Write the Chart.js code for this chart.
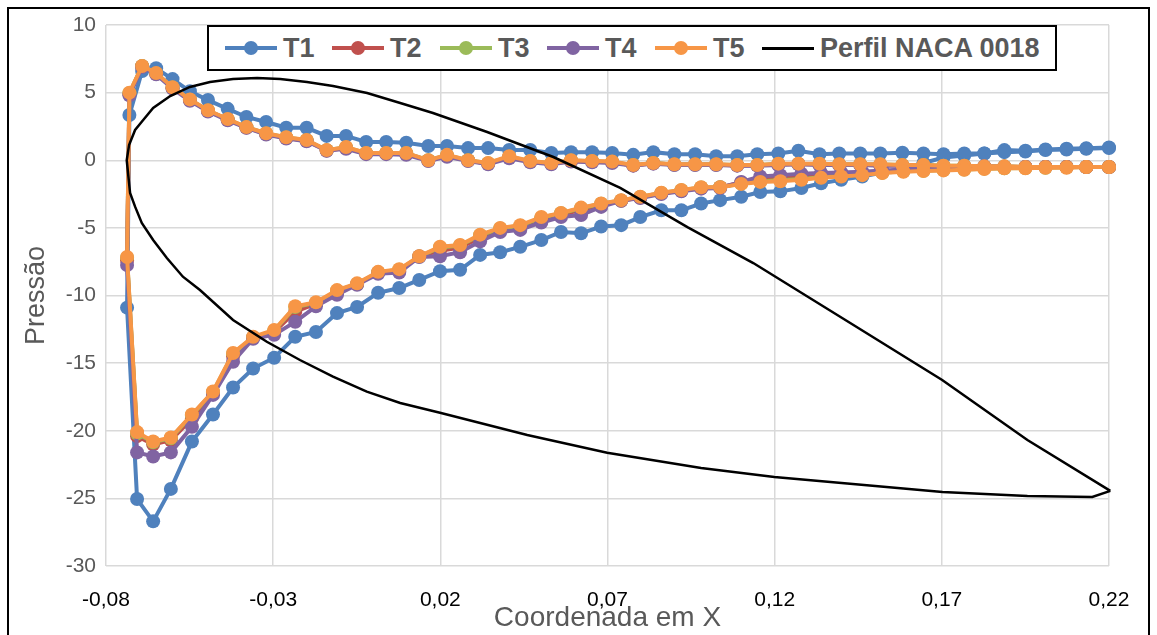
<!DOCTYPE html>
<html><head><meta charset="utf-8">
<script src="https://cdn.jsdelivr.net/npm/chart.js@4.4.1/dist/chart.umd.min.js"></script>
<style>
html,body{margin:0;padding:0;background:#fff;width:1157px;height:635px;overflow:hidden;}
#wrap{position:relative;width:1157px;height:635px;}
#c{position:absolute;left:0;top:0;}
#frame{position:absolute;left:7px;top:7px;width:1139px;height:700px;border:2px solid #000;pointer-events:none;}
#legend{position:absolute;left:207px;top:25px;width:846px;height:42px;border:2px solid #000;background:#fff;}
.item{position:absolute;top:0;height:42px;display:flex;align-items:center;}
.sw{position:relative;width:52px;height:4px;}
.sw i{position:absolute;left:50%;top:50%;width:14px;height:14px;margin:-7px 0 0 -7px;border-radius:50%;}
.lb{margin-left:6px;font:bold 27px 'Liberation Sans',Arial,sans-serif;color:#595959;white-space:nowrap;}
</style></head>
<body>
<div id="wrap">
<canvas id="c" width="1157" height="635"></canvas>
<div id="frame"></div>
<div id="legend"></div>
</div>
<script>
// ---- data ----
const xTicks = [-0.08, -0.03, 0.02, 0.07, 0.12, 0.17, 0.22];
const yTicks = [-30, -25, -20, -15, -10, -5, 0, 5, 10];
const seriesNames = ['T1', 'T2', 'T3', 'T4', 'T5', 'Perfil NACA 0018'];

const xUpper = [-0.0730,-0.0692,-0.0650,-0.0601,-0.0549,-0.0495,-0.0436,-0.0380,-0.0321,-0.0261,
  -0.0200,-0.0140,-0.0082,-0.0022,0.0038,0.0098,0.0164,0.0220,0.0283,0.0343,
  0.0406,0.0469,0.0532,0.0591,0.0654,0.0714,0.0777,0.0837,0.0900,0.0962,
  0.1025,0.1088,0.1148,0.1211,0.1271,0.1334,0.1393,0.1456,0.1516,0.1582,
  0.1645,0.1705,0.1767,0.1827,0.1887,0.1950,0.2010,0.2073,0.2132,0.2200];
const xLower = [-0.0737,-0.0707,-0.0659,-0.0606,-0.0543,-0.0480,-0.0420,-0.0360,-0.0297,-0.0234,
  -0.0172,-0.0109,-0.0049,0.0014,0.0077,0.0137,0.0199,0.0259,0.0319,0.0379,
  0.0439,0.0502,0.0561,0.0621,0.0681,0.0741,0.0798,0.0861,0.0921,0.0980,
  0.1037,0.1100,0.1157,0.1217,0.1280,0.1339,0.1399,0.1462,0.1522,0.1585,
  0.1645,0.1705,0.1767,0.1827,0.1887,0.1950,0.2010,0.2073,0.2132,0.2200];

const t1Upper = [3.35,6.6,6.8,6.0,5.1,4.45,3.8,3.2,2.83,2.4,
  2.4,1.8,1.8,1.35,1.35,1.3,1.05,1.05,0.9,0.9,
  0.76,0.76,0.54,0.6,0.6,0.54,0.4,0.6,0.45,0.45,
  0.3,0.3,0.45,0.5,0.7,0.45,0.5,0.5,0.5,0.55,
  0.5,0.45,0.5,0.5,0.75,0.7,0.8,0.85,0.88,0.95];
const t1Lower = [-10.9,-25.05,-26.7,-24.3,-20.8,-18.8,-16.8,-15.4,-14.6,-13.05,
  -12.7,-11.3,-10.85,-9.8,-9.45,-8.85,-8.2,-8.1,-7.0,-6.8,
  -6.4,-5.9,-5.3,-5.4,-4.9,-4.8,-4.2,-3.7,-3.7,-3.2,
  -2.95,-2.7,-2.35,-2.3,-2.05,-1.7,-1.45,-1.2,-0.9,-0.6,
  -0.2,0.2,0.35,0.5,0.6,0.65,0.75,0.8,0.85,0.9];

const t2Upper = [4.9,6.95,6.4,5.35,4.45,3.65,3.0,2.42,1.95,1.65,
  1.45,0.72,0.9,0.5,0.5,0.48,-0.02,0.32,-0.02,-0.25,
  0.22,-0.1,-0.25,-0.05,-0.1,-0.15,-0.38,-0.22,-0.32,-0.32,
  -0.32,-0.38,-0.38,-0.3,-0.28,-0.3,-0.32,-0.32,-0.35,-0.38,
  -0.38,-0.42,-0.42,-0.47,-0.47,-0.5,-0.5,-0.5,-0.5,-0.5];
const t2Lower = [-7.4,-20.4,-21.0,-20.7,-19.1,-17.2,-14.5,-13.1,-12.7,-11.2,
  -10.6,-9.8,-9.15,-8.3,-8.2,-7.1,-6.7,-6.45,-5.7,-5.15,
  -4.95,-4.35,-4.0,-3.7,-3.3,-3.0,-2.75,-2.45,-2.25,-2.05,
  -2.0,-1.65,-1.35,-1.25,-1.15,-1.05,-1.0,-0.95,-0.85,-0.75,
  -0.7,-0.65,-0.6,-0.55,-0.55,-0.55,-0.5,-0.5,-0.5,-0.5];

const t3Upper = [4.95,6.96,6.42,5.38,4.48,3.68,3.02,2.44,1.98,1.68,
  1.48,0.74,0.95,0.52,0.52,0.52,0.0,0.36,0.0,-0.22,
  0.26,-0.07,-0.22,-0.02,-0.07,-0.12,-0.36,-0.21,-0.31,-0.31,
  -0.31,-0.36,-0.36,-0.27,-0.27,-0.27,-0.31,-0.31,-0.32,-0.36,
  -0.36,-0.41,-0.41,-0.46,-0.46,-0.5,-0.5,-0.5,-0.5,-0.5];
const t3Lower = [-7.2,-20.2,-20.85,-20.55,-18.85,-17.15,-14.3,-13.1,-12.6,-10.85,
  -10.55,-9.65,-9.15,-8.3,-8.1,-7.12,-6.45,-6.3,-5.55,-5.05,
  -4.85,-4.25,-3.92,-3.55,-3.22,-2.97,-2.72,-2.42,-2.22,-2.02,
  -2.0,-1.72,-1.55,-1.48,-1.38,-1.25,-1.15,-1.05,-0.92,-0.82,
  -0.78,-0.72,-0.68,-0.62,-0.6,-0.57,-0.55,-0.52,-0.5,-0.5];

const t4Upper = [4.8,6.9,6.35,5.3,4.4,3.6,2.95,2.4,1.9,1.6,
  1.4,0.7,0.85,0.45,0.45,0.4,-0.05,0.25,-0.05,-0.3,
  0.15,-0.15,-0.3,-0.1,-0.15,-0.2,-0.4,-0.25,-0.35,-0.35,
  -0.35,-0.4,-0.4,-0.35,-0.3,-0.35,-0.35,-0.35,-0.4,-0.4,
  -0.4,-0.45,-0.45,-0.45,-0.5,-0.5,-0.5,-0.5,-0.5,-0.5];
const t4Lower = [-7.75,-21.6,-21.9,-21.6,-19.7,-17.35,-14.9,-13.2,-12.9,-11.95,
  -10.8,-9.95,-9.2,-8.4,-8.3,-7.15,-7.1,-6.8,-6.0,-5.3,
  -5.15,-4.6,-4.2,-4.05,-3.45,-3.0,-2.8,-2.5,-2.3,-2.1,
  -2.05,-1.6,-1.2,-1.1,-1.0,-0.95,-0.9,-0.85,-0.75,-0.7,
  -0.6,-0.55,-0.5,-0.5,-0.5,-0.5,-0.5,-0.5,-0.5,-0.5];

const t5Upper = [5.0,6.97,6.45,5.4,4.5,3.7,3.05,2.45,2.0,1.7,
  1.5,0.75,0.98,0.54,0.54,0.54,0.0,0.4,0.0,-0.2,
  0.3,-0.05,-0.2,0.0,-0.05,-0.1,-0.35,-0.2,-0.3,-0.3,
  -0.3,-0.35,-0.35,-0.25,-0.25,-0.25,-0.3,-0.3,-0.3,-0.35,
  -0.35,-0.4,-0.4,-0.45,-0.45,-0.5,-0.5,-0.5,-0.5,-0.5];
const t5Lower = [-7.15,-20.1,-20.8,-20.5,-18.8,-17.1,-14.25,-13.05,-12.55,-10.8,
  -10.5,-9.6,-9.1,-8.25,-8.05,-7.1,-6.4,-6.27,-5.5,-5.0,
  -4.8,-4.2,-3.9,-3.5,-3.2,-2.95,-2.7,-2.4,-2.2,-2.0,
  -2.0,-1.75,-1.6,-1.55,-1.45,-1.3,-1.2,-1.1,-0.95,-0.85,
  -0.8,-0.75,-0.7,-0.65,-0.6,-0.6,-0.55,-0.55,-0.5,-0.5];

// NACA 0018 profile outline (leading edge -> trailing edge)
const profUpperX = [-0.0738,-0.0731,-0.0713,-0.0693,-0.0659,-0.0608,-0.0549,-0.0489,-0.0420,-0.0348,
  -0.0279,-0.0199,-0.0121,-0.0019,0.0080,0.0178,0.0340,0.0538,0.0738,0.0939,
  0.1136,0.1426,0.1701,0.1956,0.2204];
const profUpperY = [0.0,1.13,2.24,2.85,3.86,4.75,5.42,5.79,6.01,6.08,
  6.01,5.79,5.49,4.97,4.23,3.49,2.09,0.24,-2.05,-4.94,
  -7.60,-12.03,-16.25,-20.68,-24.45];
const profLowerX = [-0.0728,-0.0713,-0.0693,-0.0659,-0.0618,-0.0570,-0.0519,-0.0420,-0.0319,-0.0220,
  -0.0121,-0.0020,0.0080,0.0199,0.0460,0.0699,0.0980,0.1199,0.1501,0.1702,
  0.1956,0.2150,0.2204];
const profLowerY = [-2.42,-3.43,-4.64,-5.90,-7.23,-8.61,-9.59,-11.81,-13.42,-14.77,
  -16.00,-17.11,-17.95,-18.67,-20.31,-21.62,-22.75,-23.42,-24.09,-24.53,
  -24.82,-24.90,-24.45];

const colors = ['#4F81BD', '#C0504D', '#9BBB59', '#8064A2', '#F79646', '#000000'];

// ---- build ----
function loopPts(up, low) {
  const pts = [];
  for (let i = up.length - 1; i >= 0; i--) pts.push({x: xUpper[i], y: up[i]});
  for (let i = 0; i < low.length; i++) pts.push({x: xLower[i], y: low[i]});
  return pts;
}
function profPts() {
  const pts = [];
  for (let i = profUpperX.length - 1; i >= 0; i--) pts.push({x: profUpperX[i], y: profUpperY[i]});
  for (let i = 0; i < profLowerX.length; i++) pts.push({x: profLowerX[i], y: profLowerY[i]});
  return pts;
}
const seriesData = [
  loopPts(t1Upper, t1Lower), loopPts(t2Upper, t2Lower), loopPts(t3Upper, t3Lower),
  loopPts(t4Upper, t4Lower), loopPts(t5Upper, t5Lower)
];

const datasets = seriesData.map((d, i) => ({
  label: seriesNames[i], data: d, showLine: true,
  borderColor: colors[i], backgroundColor: colors[i],
  borderWidth: 4, pointRadius: 7, pointBorderWidth: 0,
  pointBackgroundColor: colors[i], tension: 0, clip: false,
  order: 5 - i
}));
datasets.push({
  label: seriesNames[5], data: profPts(), showLine: true,
  borderColor: '#000', backgroundColor: '#000', borderWidth: 2.5,
  pointRadius: 0, tension: 0, clip: false, order: 0
});

Chart.defaults.font.family = "'Liberation Sans', Arial, sans-serif";
const gridC = '#D9D9D9';
new Chart(document.getElementById('c'), {
  type: 'scatter',
  data: {datasets},
  options: {
    responsive: false, animation: false, devicePixelRatio: 1,
    layout: {padding: {left: 0, right: 48, top: 25, bottom: 0}},
    plugins: {legend: {display: false}, tooltip: {enabled: false}},
    scales: {
      x: {
        type: 'linear', min: -0.08, max: 0.22,
        afterBuildTicks: s => { s.ticks = xTicks.map(v => ({value: v})); },
        afterFit: s => { s.height = 69; },
        ticks: {color: '#000', font: {size: 21}, padding: 22, autoSkip: false, maxRotation: 0,
          callback: v => Number(v).toFixed(2).replace('.', ',')},
        grid: {color: gridC, lineWidth: 1.5, drawTicks: false},
        border: {display: false},
        title: {display: true, text: 'Coordenada em X', color: '#595959', font: {size: 28}, padding: {top: 0, bottom: 0}}
      },
      y: {
        type: 'linear', min: -30, max: 10,
        afterBuildTicks: s => { s.ticks = yTicks.map(v => ({value: v})); },
        afterFit: s => { s.width = 106; },
        ticks: {color: '#595959', font: {size: 21}, padding: 10},
        grid: {color: gridC, lineWidth: 1.5, drawTicks: false},
        border: {display: false},
        title: {display: true, text: 'Pressão', color: '#595959', font: {size: 27}, padding: {top: 20, bottom: 0}}
      }
    }
  }
});

// ---- legend (HTML) ----
const legendLeft = [16, 123, 231, 338, 446, 553];
const leg = document.getElementById('legend');
datasets.map((d, i) => ({d, i})).sort((a, b) => a.i - b.i).forEach(({d, i}) => {
  const it = document.createElement('div');
  it.className = 'item';
  it.style.left = legendLeft[i] + 'px';
  const sw = document.createElement('span');
  sw.className = 'sw';
  sw.style.background = d.borderColor;
  if (i === 5) sw.style.height = '3px';
  if (d.pointRadius > 0) { const dot = document.createElement('i'); dot.style.background = d.borderColor; sw.appendChild(dot); }
  const lb = document.createElement('span');
  lb.className = 'lb';
  lb.textContent = d.label;
  it.appendChild(sw); it.appendChild(lb);
  leg.appendChild(it);
});
</script>
</body></html>
